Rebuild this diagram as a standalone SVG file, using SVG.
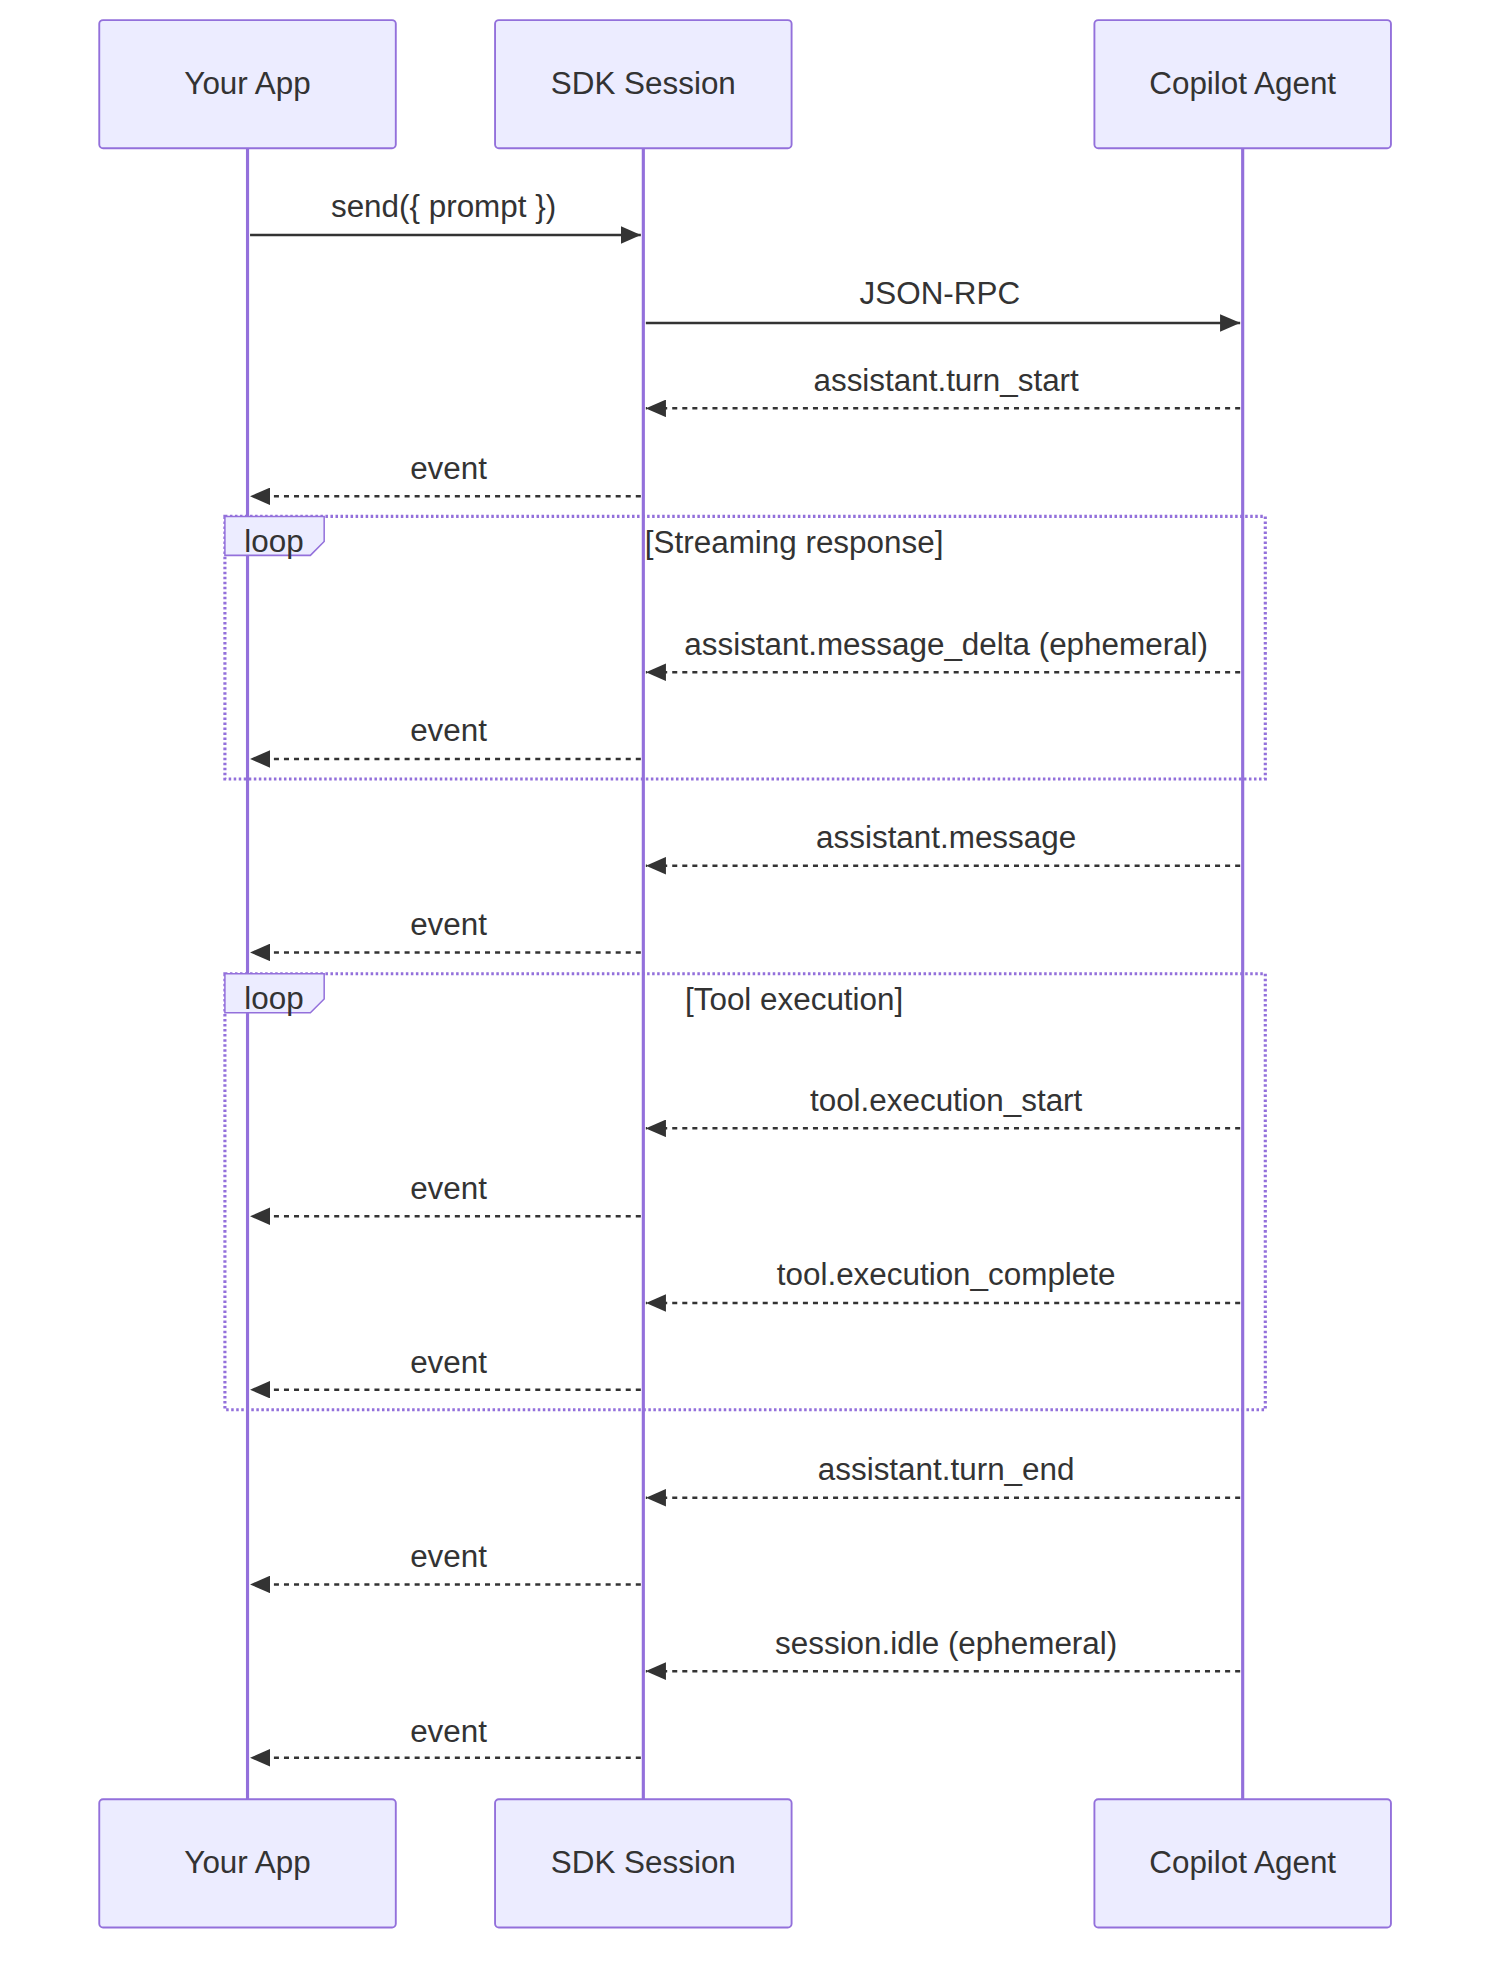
<svg xmlns="http://www.w3.org/2000/svg" width="1506" height="1970" viewBox="0 0 1506 1970">
<style>
.actor{fill:#ECECFF;stroke:#9370DB;stroke-width:1.5}
.life{stroke:#9370DB;stroke-width:2.5}
.t{font-family:"Liberation Sans",Arial,sans-serif;font-size:25px;fill:#333;text-anchor:middle}
.msg{stroke:#333;stroke-width:2;fill:none}
.dash{stroke-dasharray:4,4}
.loop{fill:none;stroke:#9370DB;stroke-width:2.5;stroke-dasharray:2,2}
.lbl{fill:#ECECFF;stroke:#9370DB;stroke-width:1.2}
</style>
<defs>
<marker id="ah" viewBox="0 0 16 14" refX="16" refY="7" markerWidth="16" markerHeight="14" markerUnits="userSpaceOnUse" orient="auto"><path d="M0,0L16,7L0,14z" fill="#333"/></marker>
</defs>
<rect width="1506" height="1970" fill="#fff"/>
<g transform="scale(1.2565)">
<g id="lifelines">
<line class="life" x1="197" y1="118" x2="197" y2="1432"/>
<line class="life" x1="512" y1="118" x2="512" y2="1432"/>
<line class="life" x1="989" y1="118" x2="989" y2="1432"/>
</g>
<g id="actor-app-top"><rect class="actor" x="79" y="16" width="236" height="102" rx="3"/><text class="t" x="197" y="75">Your App</text></g>
<g id="actor-sdk-top"><rect class="actor" x="394" y="16" width="236" height="102" rx="3"/><text class="t" x="512" y="75">SDK Session</text></g>
<g id="actor-agent-top"><rect class="actor" x="871" y="16" width="236" height="102" rx="3"/><text class="t" x="989" y="75">Copilot Agent</text></g>
<g id="actor-app-bottom"><rect class="actor" x="79" y="1432" width="236" height="102" rx="3"/><text class="t" x="197" y="1491">Your App</text></g>
<g id="actor-sdk-bottom"><rect class="actor" x="394" y="1432" width="236" height="102" rx="3"/><text class="t" x="512" y="1491">SDK Session</text></g>
<g id="actor-agent-bottom"><rect class="actor" x="871" y="1432" width="236" height="102" rx="3"/><text class="t" x="989" y="1491">Copilot Agent</text></g>
<g id="loop1"><rect class="loop" x="179" y="411" width="828" height="209"/><path class="lbl" d="M179,411H258V431L247,442H179z"/><text class="t" x="218" y="439">loop</text><text class="t" x="632" y="440">[Streaming response]</text></g>
<g id="loop2"><rect class="loop" x="179" y="775" width="828" height="347"/><path class="lbl" d="M179,775H258V795L247,806H179z"/><text class="t" x="218" y="803">loop</text><text class="t" x="632" y="804">[Tool execution]</text></g>
<g id="connectors">
<line class="msg" x1="199" y1="187" x2="510" y2="187" marker-end="url(#ah)"/><text class="t" x="353" y="173">send({ prompt })</text>
<line class="msg" x1="514" y1="257" x2="987" y2="257" marker-end="url(#ah)"/><text class="t" x="748" y="242">JSON-RPC</text>
<line class="msg dash" x1="987" y1="325" x2="514" y2="325" marker-end="url(#ah)"/><text class="t" x="753" y="311">assistant.turn_start</text>
<line class="msg dash" x1="510" y1="395" x2="199" y2="395" marker-end="url(#ah)"/><text class="t" x="357" y="381">event</text>
<line class="msg dash" x1="987" y1="535" x2="514" y2="535" marker-end="url(#ah)"/><text class="t" x="753" y="521">assistant.message_delta (ephemeral)</text>
<line class="msg dash" x1="510" y1="604" x2="199" y2="604" marker-end="url(#ah)"/><text class="t" x="357" y="590">event</text>
<line class="msg dash" x1="987" y1="689" x2="514" y2="689" marker-end="url(#ah)"/><text class="t" x="753" y="675">assistant.message</text>
<line class="msg dash" x1="510" y1="758" x2="199" y2="758" marker-end="url(#ah)"/><text class="t" x="357" y="744">event</text>
<line class="msg dash" x1="987" y1="898" x2="514" y2="898" marker-end="url(#ah)"/><text class="t" x="753" y="884">tool.execution_start</text>
<line class="msg dash" x1="510" y1="968" x2="199" y2="968" marker-end="url(#ah)"/><text class="t" x="357" y="954">event</text>
<line class="msg dash" x1="987" y1="1037" x2="514" y2="1037" marker-end="url(#ah)"/><text class="t" x="753" y="1023">tool.execution_complete</text>
<line class="msg dash" x1="510" y1="1106" x2="199" y2="1106" marker-end="url(#ah)"/><text class="t" x="357" y="1093">event</text>
<line class="msg dash" x1="987" y1="1192" x2="514" y2="1192" marker-end="url(#ah)"/><text class="t" x="753" y="1178">assistant.turn_end</text>
<line class="msg dash" x1="510" y1="1261" x2="199" y2="1261" marker-end="url(#ah)"/><text class="t" x="357" y="1247">event</text>
<line class="msg dash" x1="987" y1="1330" x2="514" y2="1330" marker-end="url(#ah)"/><text class="t" x="753" y="1316">session.idle (ephemeral)</text>
<line class="msg dash" x1="510" y1="1399" x2="199" y2="1399" marker-end="url(#ah)"/><text class="t" x="357" y="1386">event</text>
</g>
</g>
</svg>
